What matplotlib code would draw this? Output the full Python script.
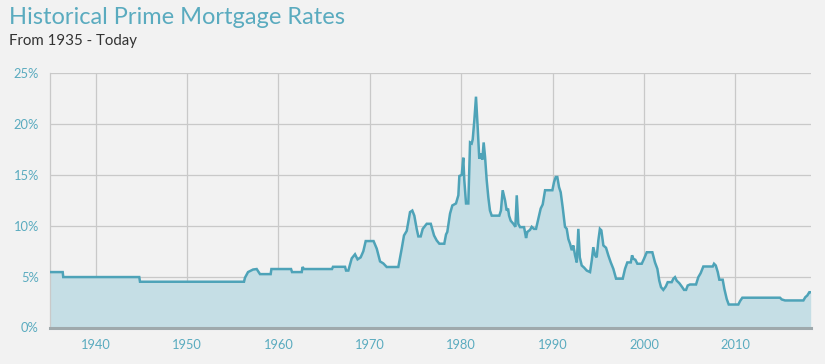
import numpy as np
import matplotlib.pyplot as plt

# --- DADOS ---
anos = [
    1935.00, 1936.39, 1936.45, 1944.77, 1944.85, 1956.23, 1956.34, 1956.67,
    1957.22, 1957.62, 1957.98, 1959.15, 1959.23, 1961.38, 1961.49, 1962.55,
    1962.64, 1962.80, 1965.86, 1965.97, 1967.29, 1967.40, 1967.65, 1968.02,
    1968.38, 1968.66, 1969.00, 1969.29, 1969.55, 1970.41, 1970.76, 1971.12,
    1971.48, 1971.85, 1973.12, 1973.49, 1973.74, 1974.04, 1974.40, 1974.65,
    1974.87, 1975.13, 1975.31, 1975.57, 1975.79, 1976.23, 1976.67, 1977.03,
    1977.32, 1977.61, 1978.15, 1978.34, 1978.48, 1978.78, 1979.03, 1979.43,
    1979.69, 1979.80, 1980.06, 1980.23, 1980.34, 1980.53, 1980.78, 1980.97,
    1981.15, 1981.26, 1981.44, 1981.62, 1981.81, 1981.98, 1982.17, 1982.31,
    1982.46, 1982.61, 1982.79, 1982.97, 1983.15, 1983.34, 1984.17, 1984.35,
    1984.54, 1984.80, 1984.98, 1985.13, 1985.24, 1985.42, 1985.71, 1985.93,
    1986.08, 1986.25, 1986.44, 1986.88, 1987.10, 1987.24, 1987.53, 1987.72,
    1987.97, 1988.19, 1988.44, 1988.70, 1988.92, 1989.18, 1989.98, 1990.16,
    1990.35, 1990.52, 1990.71, 1990.89, 1991.11, 1991.36, 1991.55, 1991.73,
    1991.91, 1992.10, 1992.27, 1992.46, 1992.65, 1992.82, 1992.98, 1993.19,
    1993.44, 1993.74, 1994.10, 1994.29, 1994.46, 1994.65, 1994.83, 1995.01,
    1995.18, 1995.34, 1995.56, 1995.85, 1996.10, 1996.37, 1996.65, 1996.95,
    1997.68, 1997.93, 1998.18, 1998.56, 1998.70, 1998.84, 1999.06, 1999.28,
    1999.76, 2000.01, 2000.31, 2000.92, 2001.21, 2001.47, 2001.68, 2001.87,
    2002.12, 2002.39, 2002.60, 2003.04, 2003.22, 2003.40, 2003.59, 2003.87,
    2004.14, 2004.39, 2004.61, 2004.79, 2005.04, 2005.70, 2005.95, 2006.21,
    2006.50, 2007.53, 2007.67, 2007.86, 2008.08, 2008.25, 2008.62, 2008.80,
    2009.06, 2009.28, 2010.33, 2010.52, 2010.77, 2014.89, 2015.08, 2015.44,
    2017.45, 2017.66, 2017.88, 2018.10, 2018.25,
]

taxas = [
    5.45, 5.45, 4.96, 4.96, 4.50, 4.50, 4.90, 5.45,
    5.70, 5.75, 5.25, 5.25, 5.75, 5.75, 5.45, 5.45,
    5.95, 5.75, 5.75, 5.97, 5.97, 5.60, 5.60, 6.80,
    7.20, 6.70, 6.90, 7.50, 8.50, 8.50, 7.75, 6.50,
    6.30, 5.95, 5.95, 7.75, 9.05, 9.50, 11.35, 11.50,
    11.00, 9.70, 8.96, 8.96, 9.70, 10.20, 10.20, 9.05,
    8.56, 8.24, 8.24, 9.15, 9.40, 11.20, 12.00, 12.20,
    13.00, 14.90, 15.00, 16.70, 14.50, 12.20, 12.20, 18.20,
    18.10, 18.50, 20.40, 22.70, 19.60, 16.60, 17.10, 16.50,
    18.20, 16.80, 14.50, 12.80, 11.50, 11.00, 11.00, 11.50,
    13.50, 12.50, 11.50, 11.70, 11.00, 10.50, 10.20, 9.90,
    13.00, 10.20, 9.87, 9.87, 8.80, 9.40, 9.60, 9.90,
    9.70, 9.70, 10.70, 11.70, 12.10, 13.50, 13.50, 14.30,
    14.80, 14.80, 13.80, 13.30, 11.80, 9.90, 9.70, 8.70,
    8.24, 7.60, 8.07, 7.10, 6.40, 9.70, 6.90, 6.10,
    5.90, 5.60, 5.45, 6.60, 7.90, 7.10, 6.90, 8.56,
    9.70, 9.55, 8.07, 7.84, 7.10, 6.40, 5.77, 4.80,
    4.80, 5.77, 6.40, 6.40, 7.10, 6.76, 6.66, 6.27,
    6.27, 6.76, 7.40, 7.40, 6.40, 5.77, 4.60, 3.97,
    3.70, 4.03, 4.46, 4.46, 4.80, 4.95, 4.60, 4.36,
    4.03, 3.70, 3.70, 4.13, 4.23, 4.23, 4.95, 5.35,
    6.00, 6.00, 6.27, 6.10, 5.45, 4.70, 4.70, 3.80,
    2.80, 2.26, 2.26, 2.60, 2.93, 2.93, 2.76, 2.66,
    2.66, 2.98, 3.15, 3.47, 3.47,
]

anos_ticks = [1940, 1950, 1960, 1970, 1980, 1990, 2000, 2010]
pct_ticks = [0, 5, 10, 15, 20, 25]

TITULO = "Historical Prime Mortgage Rates"
SUBTITULO = "From 1935 - Today"

# --- ESTILO ---
FUNDO = "#f2f2f2"
COR_LINHA = "#4ea3b8"
COR_AREA = "#c5dee5"
COR_TEXTO = "#5aabbf"
COR_GRADE = "#c9c9c9"

plt.rcParams["font.family"] = ["Lato", "DejaVu Sans"]

fig = plt.figure(figsize=(8.25, 3.64), dpi=100)
fig.patch.set_facecolor(FUNDO)
ax = fig.add_axes([50 / 825, 1 - 327.5 / 364, 760.7 / 825, 254.2 / 364])
ax.set_facecolor(FUNDO)

x = np.array(anos)
y = np.array(taxas)
ax.fill_between(x, 0, y, color=COR_AREA, zorder=2, linewidth=0)
ax.plot(x, y, color=COR_LINHA, linewidth=1.8, zorder=3, solid_joinstyle="miter")

ax.set_xlim(1935, 2018.25)
ax.set_ylim(0, 25)
ax.set_xticks(anos_ticks)
ax.set_yticks(pct_ticks)
ax.set_yticklabels([f"{v}%" for v in pct_ticks])
ax.grid(True, color=COR_GRADE, linewidth=0.9, zorder=1)
ax.tick_params(length=0, colors=COR_TEXTO, labelsize=9.3)
ax.tick_params(axis="y", pad=8)
ax.tick_params(axis="x", pad=8)

for lado in ["top", "right"]:
    ax.spines[lado].set_visible(False)
ax.spines["left"].set_color(COR_GRADE)
ax.spines["left"].set_linewidth(0.9)
ax.spines["bottom"].set_color("#9fa9ac")
ax.spines["bottom"].set_linewidth(2.2)
ax.spines["bottom"].set_zorder(4)

fig.text(9 / 825, 1 - 17 / 364, TITULO, color=COR_TEXTO, fontsize=17,
         va="center", ha="left")
fig.text(9 / 825, 1 - 41 / 364, SUBTITULO, color="#333333", fontsize=10.8,
         va="center", ha="left")

fig.savefig("out.png", dpi=100, facecolor=FUNDO)
